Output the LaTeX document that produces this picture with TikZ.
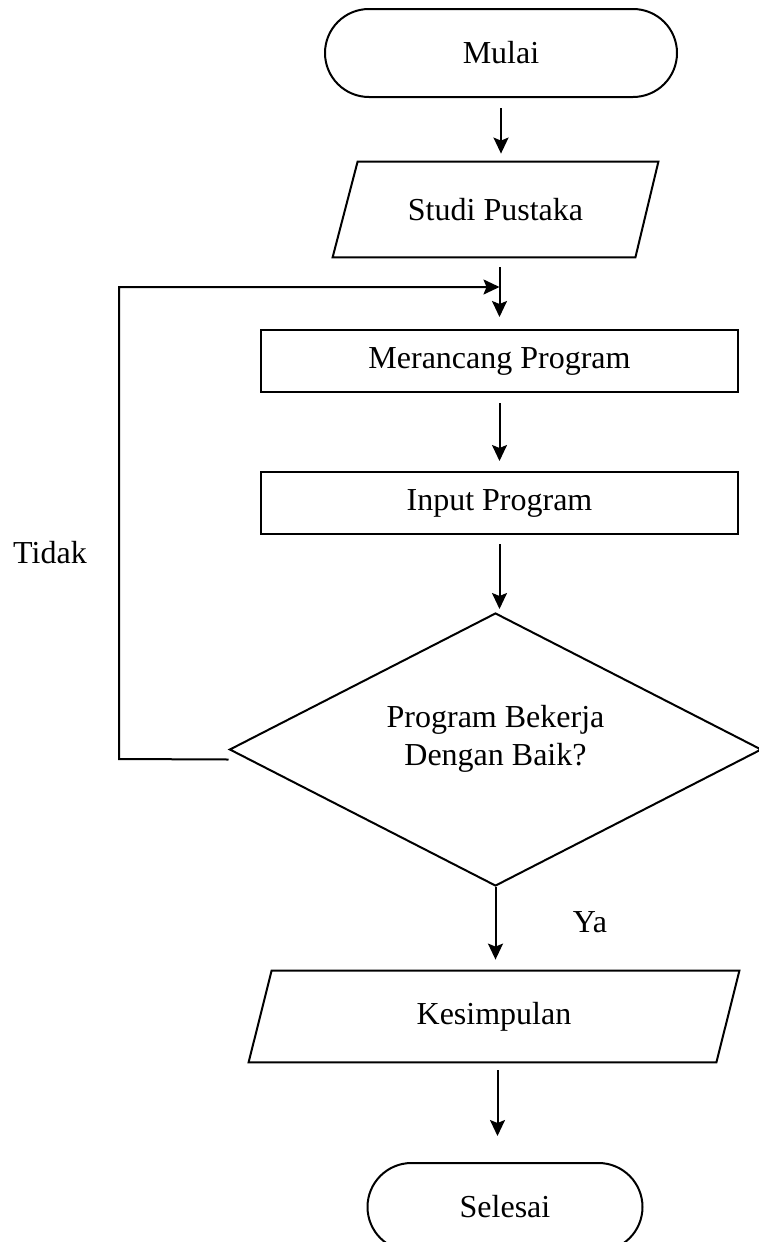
\documentclass[tikz,border=0pt]{standalone}
\usepackage{fontspec}
\setmainfont{Liberation Serif}
\usetikzlibrary{shapes.geometric,arrows.meta}
\begin{document}
\begin{tikzpicture}[x=0.5pt,y=-0.5pt,
  ln/.style={line width=1pt},
  arr/.style={ln, -{Stealth[length=8pt,width=7.5pt,inset=1.5pt]}},
  every node/.style={font=\fontsize{16}{19}\selectfont, inner sep=0pt},
  term/.style={draw, ln, rounded corners=22pt, minimum height=44pt},
  proc/.style={draw, ln, minimum width=238.5pt, minimum height=31pt},
  iotext/.style={rectangle},
  dec/.style={draw, ln, diamond, align=center, minimum width=266pt, minimum height=136.5pt}]
\useasboundingbox (0,0) rectangle (759,1242);
\clip (0,0) rectangle (759,1242);

\node[term, minimum width=176pt] (mulai) at (501,53) {Mulai};
\node[iotext, minimum width=162.5pt, minimum height=47.5pt] (studi) at (495.5,209.5) {Studi Pustaka};
\draw[ln] ([xshift=12.5pt]studi.north west) -- (studi.north east) -- ([xshift=-11.5pt]studi.south east) -- (studi.south west) -- cycle;
\node[proc] (rancang) at (499.5,361) {Merancang Program};
\node[proc] (input) at (499.5,503) {Input Program};
\node[dec] (cek) at (495.5,749.5) {\raisebox{1pt}[0pt][0pt]{\begin{tabular}{@{}c@{}}Program Bekerja\\Dengan Baik?\end{tabular}}};
\node[iotext, minimum width=245pt, minimum height=45.5pt] (simpul) at (494,1016.5) {Kesimpulan};
\draw[ln] ([xshift=11.5pt]simpul.north west) -- (simpul.north east) -- ([xshift=-11.5pt]simpul.south east) -- (simpul.south west) -- cycle;
\node[term, minimum width=137.5pt] (selesai) at (505,1207) {Selesai};
\node (tidak) at (50,553) {Tidak};
\node (ya) at (590,922) {Ya};

\coordinate (j) at (499.5,287);
\coordinate (c1) at (119,759);
\coordinate (c2) at (119,287);

\draw[arr, shorten <=5pt, shorten >=4pt] (mulai.south) -- (mulai.south |- studi.north);
\draw[arr, shorten <=5pt, shorten >=6pt] (rancang.north |- studi.south) -- (rancang.north);
\draw[arr, shorten <=5pt, shorten >=5pt] (rancang.south) -- (input.north);
\draw[arr, shorten <=4.5pt, shorten >=1.5pt] (input.south) -- (input.south |- cek.north);
\draw[arr, shorten >=5.5pt] (cek.south) -- (cek.south |- simpul.north);
\draw[arr, shorten <=4pt, shorten >=13pt] (simpul.south) ++(3.5,0) coordinate (s1) -- (s1 |- selesai.north);
\draw[arr] ([yshift=-5pt]cek.west) -- (c1) -- (c2) -- (j);
\end{tikzpicture}
\end{document}
